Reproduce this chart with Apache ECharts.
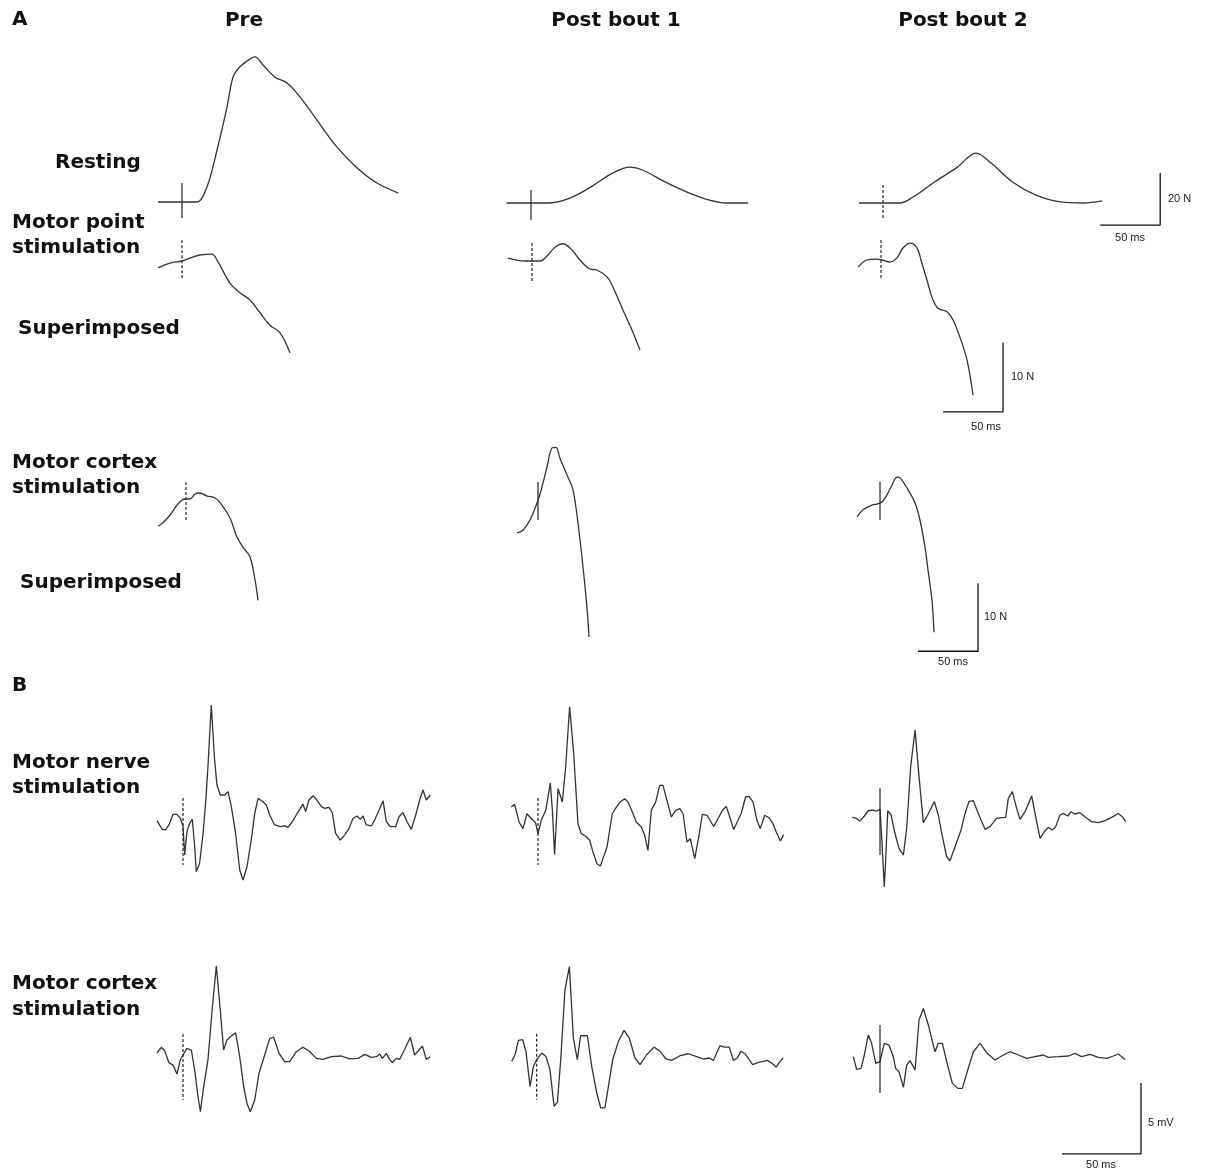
<!DOCTYPE html>
<html><head><meta charset="utf-8">
<script src="https://cdn.jsdelivr.net/npm/echarts@6/dist/echarts.min.js"></script>
<style>html,body{margin:0;padding:0;background:#fff}#c{width:1205px;height:1173px}</style>
</head><body><div id="c"></div><script>
// ===== DATA (time in ms from stimulus, force in N, EMG in mV) =====
const columnTitles = ['Pre', 'Post bout 1', 'Post bout 2'];
const panelLetters = ['A', 'B'];
const rowLabels = ['Resting', 'Motor point', 'stimulation', 'Superimposed', 'Motor cortex', 'stimulation', 'Superimposed', 'Motor nerve', 'stimulation', 'Motor cortex', 'stimulation'];

// Resting twitch force (N)
const restingPre = [[-20,0],[0,0],[12.5,0],[20.8,5.8],[29.2,20],[37.5,36.5],[42.5,48],[48.3,52],[56.7,55],[60.8,55.8],[67.5,52.7],[77.5,48],[87.5,45.8],[98.3,40.4],[112.5,31.5],[129,21.2],[146,13.1],[162.5,7.3],[180,3.5]];
const restingPost1 = [[-20.4,0],[0,0],[14,0],[32.5,1.9],[50,6.2],[68,11.5],[82.5,13.8],[93,12.7],[111.7,8.1],[130,4.2],[148,1.2],[162.5,0],[181,0]];
const restingPost2 = [[-20,0],[0,0],[14,0],[25,2.3],[43,8.1],[62,13.8],[77.5,19.2],[90,15.4],[108,8.1],[127,3.1],[148,0.4],[167,0],[182.5,0.8]];

// Motor point superimposed twitch (N)
const motorPointPre = [[-20,-1.0],[-10,-0.3],[0,0],[6.7,0.43],[15,0.87],[25,1.0],[30,-0.14],[40,-3.2],[48.3,-4.6],[56.7,-5.65],[65,-7.5],[73.3,-9.3],[81.7,-10.4],[90,-13.3]];
const motorPointPost1 = [[-20,0.43],[-5.8,0],[6.7,0],[13.3,0.87],[19.2,2.0],[25.8,2.5],[33.3,1.6],[40,0.14],[48.3,-1.16],[54,-1.3],[62.5,-2.3],[67.5,-3.8],[75.8,-7.1],[83.3,-10],[90,-12.9]];
const motorPointPost2 = [[-19,-1.0],[-11.7,0],[-3.3,0.14],[0.8,0],[7.5,-0.3],[13.3,0.3],[18.3,1.74],[24.2,2.46],[30,1.74],[34,-0.43],[38.3,-2.9],[42.5,-5.4],[47.5,-7.0],[55,-7.5],[60,-8.7],[65.8,-11.2],[71.7,-14.5],[76.7,-19.6]];

// Motor cortex superimposed twitch (N)
const motorCortexPre = [[-23.3,-4.0],[-19.2,-3.5],[-13.3,-2.35],[-7.5,-0.9],[-3.3,-0.15],[0,0],[3.3,0],[7.5,0.74],[11.7,0.88],[17.5,0.44],[24.2,0.15],[30,-0.9],[36.7,-2.8],[42.5,-5.6],[47.5,-7.1],[53.3,-8.5],[57.5,-11.9],[60,-14.9]];
const motorCortexPost1 = [[-17.5,-4.7],[-12.5,-4.3],[-6.7,-2.8],[-0.8,-0.3],[3.3,2.06],[7.5,5.0],[11.7,7.8],[15,7.9],[18.3,6.3],[25,3.5],[29.2,1.6],[33.3,-3.2],[37.5,-9.7],[40.8,-15.6],[42.5,-20]];
const motorCortexPost2 = [[-19.2,-2.06],[-14.2,-1.0],[-6.7,-0.3],[-2.5,-0.15],[1.7,0.15],[5.8,1.2],[10,2.65],[14.2,3.8],[16.7,3.7],[22.5,2.2],[29.2,0],[33.3,-2.5],[37.5,-6.5],[40,-9.85],[43.3,-14.3],[45,-19]];

// EMG after motor nerve stimulation (mV)
const emgNervePre = [[-16.5,-0.05],[-13.1,-0.66],[-11.0,-0.70],[-8.9,-0.35],[-6.3,0.40],[-3.8,0.40],[-1.7,0.12],[0,-0.42],[1.05,-2.46],[2.5,-0.82],[4.2,-0.23],[5.9,0.05],[7.4,-1.88],[8.4,-3.64],[10.5,-3.05],[12.7,-0.94],[14.3,1.17],[15.8,3.76],[17.9,8.10],[20.0,4.23],[21.5,2.46],[23.6,1.76],[26.4,1.76],[28.5,2.00],[30.6,0.94],[33.3,-0.94],[35.9,-3.52],[38.0,-4.23],[40.5,-3.29],[43.2,-1.41],[45.4,0.47],[47.5,1.53],[50.6,1.29],[52.7,1.06],[54.9,0.35],[58.0,-0.35],[61.6,-0.47],[64.3,-0.42],[66.5,-0.52],[69.2,-0.12],[71.7,0.35],[74.3,0.82],[75.9,1.13],[77.6,0.59],[79.7,1.41],[82.3,1.71],[84.4,1.46],[87.6,0.94],[89.7,0.82],[92.4,0.89],[94.5,0.52],[96.6,-0.94],[99.6,-1.41],[102.3,-1.06],[105.1,-0.59],[107.6,0.12],[110.1,0.28],[112.2,0.05],[113.9,0.28],[116.0,-0.35],[119.2,-0.42],[121.3,0],[124.1,0.70],[126.6,1.36],[128.7,-0.12],[131.2,-0.47],[134.6,-0.47],[136.7,0.23],[139.2,0.52],[141.8,-0.12],[144.5,-0.66],[147.3,0.35],[149.8,1.41],[151.9,2.11],[154.0,1.41],[156.5,1.76]];
const emgNervePost1 = [[-16.9,0.70],[-14.8,0.89],[-12.0,-0.35],[-9.5,-0.82],[-7.0,0.23],[-4.2,-0.12],[-1.5,-0.42],[0,-1.17],[2.1,-0.23],[4.9,0.47],[7.8,2.39],[9.1,0.47],[10.5,-2.63],[12.7,2.00],[13.7,1.88],[15.4,1.06],[17.5,3.52],[20.0,7.75],[22.6,4.46],[25.3,-0.47],[27.4,-1.17],[30.2,-1.36],[32.7,-1.64],[34.8,-2.46],[37.3,-3.29],[39.5,-3.45],[41.1,-2.93],[43.7,-2.11],[47.0,0.23],[49.6,0.70],[52.1,1.06],[54.9,1.29],[57.0,1.06],[59.7,0.35],[62.2,-0.35],[65.4,-0.70],[67.5,-1.29],[69.6,-2.35],[71.7,0.47],[74.5,1.06],[77.0,2.23],[79.1,2.23],[81.6,1.17],[84.4,0],[87.1,0.47],[89.7,0.59],[91.8,0.23],[94.3,-1.76],[96.4,-1.53],[99.2,-2.93],[101.9,-1.29],[104.0,0.19],[107.0,0.12],[109.1,-0.28],[111.2,-0.66],[113.9,-0.12],[116.7,0.47],[119.2,0.75],[121.7,-0.12],[123.8,-0.89],[126.6,-0.23],[128.7,0.28],[131.4,1.41],[133.5,1.46],[136.1,1.06],[138.6,-0.23],[140.7,-0.82],[143.5,0.12],[146.2,-0.05],[148.7,-0.47],[150.8,-1.06],[153.4,-1.69],[155.5,-1.24]];
const emgNervePost2 = [[-17.5,-0.05],[-14.8,-0.12],[-12.7,-0.31],[-9.9,0.05],[-7.4,0.42],[-4.9,0.47],[-2.1,0.40],[0,0.52],[1.05,-1.41],[2.7,-4.93],[3.6,-3.05],[4.9,0.42],[7.0,0.12],[9.5,-1.17],[12.0,-2.23],[14.8,-2.70],[16.9,-0.82],[19.4,3.52],[22.2,6.10],[24.7,2.82],[27.4,-0.42],[30.2,0.12],[32.3,0.59],[34.4,1.06],[36.9,0.12],[39.5,-1.41],[42.2,-2.82],[44.3,-3.10],[47.5,-2.11],[51.3,-0.94],[53.8,0.23],[56.3,1.06],[59.1,1.13],[62.2,0.23],[66.5,-0.89],[69.6,-0.70],[73.8,-0.12],[77.0,-0.07],[79.5,-0.05],[81.2,1.29],[83.8,1.76],[85.9,0.82],[88.6,-0.19],[91.8,0.35],[96.0,1.46],[98.5,0],[101.3,-1.53],[104.0,-1.06],[106.5,-0.75],[109.1,-0.94],[111.2,-0.70],[113.9,0.12],[116.0,0.23],[118.8,0.05],[120.9,0.35],[123.4,0.19],[126.6,0.28],[129.7,0],[134.0,-0.35],[138.2,-0.42],[142.4,-0.28],[146.6,-0.05],[150.8,0.23],[153.4,0],[155.5,-0.35]];

// EMG after motor cortex stimulation (mV)
const emgCortexPre = [[-16.5,0.28],[-13.7,0.66],[-11.6,0.42],[-8.9,-0.42],[-6.3,-0.59],[-3.8,-1.22],[-1.7,-0.23],[0,0.12],[2.5,0.59],[5.3,0.47],[7.4,-0.94],[9.5,-2.82],[11.0,-3.87],[13.1,-2.11],[15.8,-0.23],[18.6,3.52],[21.1,6.38],[23.6,3.29],[25.7,0.47],[27.8,1.17],[30.6,1.46],[33.3,1.69],[35.9,0],[38.4,-2.11],[40.5,-3.29],[42.6,-3.87],[45.4,-3.05],[48.1,-1.17],[51.7,0.12],[54.9,1.29],[57.4,1.36],[60.8,0.23],[64.3,-0.35],[67.5,-0.35],[71.7,0.35],[75.9,0.66],[79.7,0.42],[84.4,-0.12],[88.6,-0.19],[93.9,0],[100.2,0.05],[105.5,-0.16],[110.8,-0.12],[115.0,0.16],[119.2,-0.05],[122.4,0],[124.5,0.19],[126.2,-0.12],[128.7,0.23],[130.8,-0.19],[132.5,-0.42],[135.0,-0.12],[137.1,-0.19],[140.3,0.52],[143.9,1.36],[146.6,0.12],[149.4,0.47],[151.5,0.75],[154.0,-0.19],[156.5,0]];
const emgCortexPost1 = [[-15.8,-0.12],[-13.7,0.35],[-11.6,1.36],[-8.9,1.41],[-6.8,0.59],[-4.2,-1.88],[-2.1,-0.47],[0,0],[3.2,0.47],[5.9,0.23],[8.4,-0.70],[11.0,-3.29],[13.1,-3.00],[15.2,0],[17.9,4.93],[20.7,6.57],[23.2,1.53],[25.7,0],[27.8,1.69],[32.1,1.69],[34.8,-0.47],[38.0,-2.35],[40.5,-3.40],[43.2,-3.40],[45.4,-1.88],[48.1,0],[51.7,1.29],[55.3,2.07],[58.6,1.53],[62.2,0.12],[65.4,-0.35],[69.6,0.35],[74.3,0.89],[78.1,0.59],[81.9,0.05],[85.4,-0.05],[90.7,0.28],[96.0,0.42],[100.8,0.23],[105.5,0.05],[109.3,0.12],[111.8,-0.05],[116.0,0.99],[118.6,0.89],[121.9,0.89],[124.5,-0.05],[127.0,0.12],[129.1,0.59],[131.9,0.42],[136.7,-0.35],[140.3,-0.19],[143.5,-0.12],[146.0,-0.05],[148.7,-0.23],[151.5,-0.52],[154.0,-0.12],[156.1,0.12]];
const emgCortexPost2 = [[-16.9,0],[-14.8,-0.89],[-12.0,-0.82],[-9.9,0.12],[-7.4,1.53],[-5.3,0.94],[-2.7,-0.47],[0,-0.35],[2.7,0.94],[5.7,0.82],[8.4,0],[9.9,-0.82],[12.0,-1.06],[14.8,-2.16],[16.9,-0.59],[19.0,-0.28],[22.2,-0.94],[24.7,2.58],[27.4,3.40],[30.6,2.23],[34.8,0.35],[36.9,0.94],[39.5,0.94],[42.2,-0.35],[45.8,-1.88],[49.2,-2.23],[52.1,-2.23],[54.9,-1.17],[59.1,0.35],[63.3,0.94],[67.5,0.28],[72.8,-0.23],[77.0,0.05],[82.3,0.35],[87.6,0.12],[92.8,-0.12],[98.1,0],[103.4,0.12],[106.5,-0.05],[112.9,0],[119.2,0.05],[123.4,0.23],[127.6,0],[132.9,0.16],[138.2,-0.05],[143.5,-0.12],[147.7,0.05],[150.8,0.19],[155.1,-0.19]];

// Stimulus marker extents (top, bottom) in panel units
const stimResting = [[7.3,-6.2],[5,-6.5],[6.9,-6.5]];
const stimMotorPoint = [[3.0,-2.5],[2.6,-3.2],[2.9,-2.6]];
const stimMotorCortex = [[2.5,-3.1],[2.8,-2.8],[3.1,-2.5]];
const stimEmgNerve = [[1.55,-3.17],[1.34,-3.38],[2.0,-2.7]];
const stimEmgCortex = [[1.6,-3.05],[1.83,-2.82],[2.23,-2.56]];

// Scale bars: [time length ms, amplitude length, unit]
const scaleResting = [50, 20, 'N'];
const scaleMotorPoint = [50, 10, 'N'];
const scaleMotorCortex = [50, 10, 'N'];
const scaleEmg = [50, 5, 'mV'];

// ===== LAYOUT =====
const traceColor = '#333';
const dashed = [3, 2];
function row(datas, stims, dashes, anchors, xr, yr, sx, sy, smooth) {
  return datas.map((d, i) => ({data: d, stim: stims[i], dash: dashes[i], anchor: anchors[i], xr, yr, sx, sy, smooth}));
}
const panels = [].concat(
  row([restingPre, restingPost1, restingPost2], stimResting, [false, false, true],
      [[182,202],[531,203],[883,203]], [-30,240], [-12,60], 1.2, 2.6, true),
  row([motorPointPre, motorPointPost1, motorPointPost2], stimMotorPoint, [true, true, true],
      [[182,261],[532,261],[881,260]], [-30,110], [-25,5], 1.2, 6.9, true),
  row([motorCortexPre, motorCortexPost1, motorCortexPost2], stimMotorCortex, [true, false, false],
      [[186,499],[538,501],[880,503]], [-30,90], [-25,10], 1.2, 6.8, true),
  row([emgNervePre, emgNervePost1, emgNervePost2], stimEmgNerve, [true, true, false],
      [[183,820],[538,817],[880,816.7]], [-25,175], [-8,10], 1.58, 14.2, false),
  row([emgCortexPre, emgCortexPost1, emgCortexPost2], stimEmgCortex, [true, true, false],
      [[183,1056.7],[536.7,1060],[880,1056.7]], [-25,175], [-8,8], 1.58, 14.2, false)
);
// scale bar corner (data units of the panel it belongs to) + label placement
const scaleBarDefs = [
  {panel: 2, corner: [231,-8.5], spec: scaleResting, ampLabel: [1168,199], msLabel: [1130,238]},
  {panel: 5, corner: [101.7,-22], spec: scaleMotorPoint, ampLabel: [1011,377], msLabel: [986,427]},
  {panel: 8, corner: [81.7,-21.8], spec: scaleMotorCortex, ampLabel: [984,617], msLabel: [953,662]},
  {panel: 14, corner: [165.2,-6.85], spec: scaleEmg, ampLabel: [1148,1123], msLabel: [1101,1165]}
];

const grids = [], xAxes = [], yAxes = [], series = [];
panels.forEach((p, i) => {
  grids.push({left: p.anchor[0] + p.xr[0]*p.sx, top: p.anchor[1] - p.yr[1]*p.sy,
    width: (p.xr[1]-p.xr[0])*p.sx, height: (p.yr[1]-p.yr[0])*p.sy});
  xAxes.push({type: 'value', gridIndex: i, min: p.xr[0], max: p.xr[1], show: false});
  yAxes.push({type: 'value', gridIndex: i, min: p.yr[0], max: p.yr[1], show: false});
  series.push({type: 'line', xAxisIndex: i, yAxisIndex: i, data: p.data,
    smooth: p.smooth ? 0.35 : false,
    symbol: 'none', silent: true, clip: false,
    lineStyle: {color: traceColor, width: p.smooth ? 1.3 : 1.3}});
  series.push({type: 'line', xAxisIndex: i, yAxisIndex: i, data: [[0, p.stim[0]], [0, p.stim[1]]],
    symbol: 'none', silent: true, clip: false,
    lineStyle: {color: '#222', width: 1.2, type: p.dash ? dashed : 'solid'}});
});
const graphics = [];
scaleBarDefs.forEach(s => {
  const [ms, amp, unit] = s.spec;
  const [cx, cy] = s.corner;
  series.push({type: 'line', xAxisIndex: s.panel, yAxisIndex: s.panel,
    data: [[cx - ms, cy], [cx, cy], [cx, cy + amp]],
    symbol: 'none', silent: true, clip: false, lineStyle: {color: '#111', width: 1.3}});
  graphics.push({type: 'text', x: s.ampLabel[0], y: s.ampLabel[1],
    style: {text: amp + ' ' + unit, fontSize: 11, fontFamily: 'Liberation Sans', fill: '#222', align: 'left', verticalAlign: 'middle'}});
  graphics.push({type: 'text', x: s.msLabel[0], y: s.msLabel[1],
    style: {text: ms + ' ms', fontSize: 11, fontFamily: 'Liberation Sans', fill: '#222', align: 'center', verticalAlign: 'middle'}});
});

const boldFont = {fontSize: 20, fontWeight: 'bold', fontFamily: 'DejaVu Sans', fill: '#111'};
const titleX = [244, 616, 963];
columnTitles.forEach((t, i) => graphics.push({type: 'text', x: titleX[i], y: 21,
  style: Object.assign({text: t, align: 'center', verticalAlign: 'middle'}, boldFont)}));
const letterPos = [[12,20],[12,686]];
panelLetters.forEach((t, i) => graphics.push({type: 'text', x: letterPos[i][0], y: letterPos[i][1],
  style: Object.assign({text: t, align: 'left', verticalAlign: 'middle'}, boldFont)}));
const rowLabelPos = [[55,163],[12,223],[12,248],[18,329],[12,463],[12,488],[20,583],[12,763],[12,788],[12,984],[12,1010]];
rowLabels.forEach((t, i) => graphics.push({type: 'text', x: rowLabelPos[i][0], y: rowLabelPos[i][1],
  style: Object.assign({text: t, align: 'left', verticalAlign: 'middle'}, boldFont)}));

const chart = echarts.init(document.getElementById('c'), null, {renderer: 'canvas'});
chart.setOption({
  animation: false,
  backgroundColor: '#fff',
  grid: grids, xAxis: xAxes, yAxis: yAxes, series: series, graphic: graphics
});
</script></body></html>
